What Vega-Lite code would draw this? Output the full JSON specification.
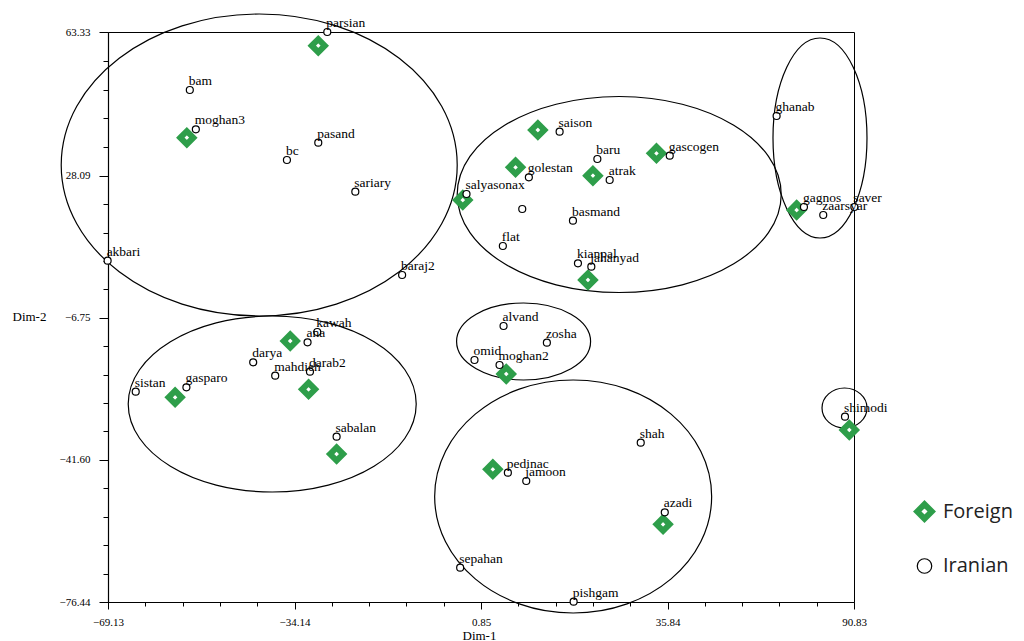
{
  "$schema": "https://vega.github.io/schema/vega-lite/v6.json",
  "autosize": {"type": "none"},
  "padding": {"left": 108, "top": 32, "right": 170, "bottom": 39},
  "width": 746,
  "height": 570,
  "background": "white",
  "config": {
    "view": {"stroke": "black", "strokeWidth": 1},
    "axis": {"grid": false, "domainColor": "black", "tickColor": "black", "labelColor": "black", "titleColor": "black", "domainWidth": 1.2, "tickWidth": 1}
  },
  "datasets": {
    "pts": [
      {"name": "parsian", "type": "Iranian", "x": -27.99, "y": 63.33},
      {"name": "bam", "type": "Iranian", "x": -53.78, "y": 49.11},
      {"name": "moghan3", "type": "Iranian", "x": -52.65, "y": 39.47},
      {"name": "pasand", "type": "Iranian", "x": -29.68, "y": 36.19},
      {"name": "bc", "type": "Iranian", "x": -35.56, "y": 31.94},
      {"name": "sariary", "type": "Iranian", "x": -22.73, "y": 24.17},
      {"name": "akbari", "type": "Iranian", "x": -69.2, "y": 7.25},
      {"name": "baraj2", "type": "Iranian", "x": -13.95, "y": 3.74},
      {"name": "saison", "type": "Iranian", "x": 15.6, "y": 38.88},
      {"name": "baru", "type": "Iranian", "x": 22.68, "y": 32.19},
      {"name": "gascogen", "type": "Iranian", "x": 36.26, "y": 33.0},
      {"name": "golestan", "type": "Iranian", "x": 9.83, "y": 27.7},
      {"name": "atrak", "type": "Iranian", "x": 24.99, "y": 27.04},
      {"name": "salyasonax", "type": "Iranian", "x": -1.87, "y": 23.61},
      {"name": "", "type": "Iranian", "x": 8.59, "y": 19.93},
      {"name": "basmand", "type": "Iranian", "x": 18.1, "y": 17.06},
      {"name": "flat", "type": "Iranian", "x": 4.95, "y": 10.86},
      {"name": "kianpal", "type": "Iranian", "x": 19.04, "y": 6.61},
      {"name": "jahanyad", "type": "Iranian", "x": 21.55, "y": 5.78},
      {"name": "ghanab", "type": "Iranian", "x": 56.31, "y": 42.73},
      {"name": "gagnos", "type": "Iranian", "x": 61.44, "y": 20.42},
      {"name": "saver", "type": "Iranian", "x": 70.9, "y": 20.42},
      {"name": "zaarsyar", "type": "Iranian", "x": 65.06, "y": 18.46},
      {"name": "kawah", "type": "Iranian", "x": -29.87, "y": -10.23},
      {"name": "ana", "type": "Iranian", "x": -31.69, "y": -12.76},
      {"name": "darya", "type": "Iranian", "x": -41.89, "y": -17.66},
      {"name": "mahdieh", "type": "Iranian", "x": -37.76, "y": -20.95},
      {"name": "darab2", "type": "Iranian", "x": -31.24, "y": -19.97},
      {"name": "sistan", "type": "Iranian", "x": -63.93, "y": -24.87},
      {"name": "gasparo", "type": "Iranian", "x": -54.42, "y": -23.79},
      {"name": "sabalan", "type": "Iranian", "x": -26.24, "y": -35.91},
      {"name": "alvand", "type": "Iranian", "x": 5.08, "y": -8.76},
      {"name": "zosha", "type": "Iranian", "x": 13.21, "y": -12.86},
      {"name": "omid", "type": "Iranian", "x": -0.37, "y": -17.1},
      {"name": "moghan2", "type": "Iranian", "x": 4.33, "y": -18.33},
      {"name": "shah", "type": "Iranian", "x": 30.82, "y": -37.38},
      {"name": "pedinac", "type": "Iranian", "x": 5.89, "y": -44.73},
      {"name": "jamoon", "type": "Iranian", "x": 9.34, "y": -46.77},
      {"name": "azadi", "type": "Iranian", "x": 35.33, "y": -54.44},
      {"name": "sepahan", "type": "Iranian", "x": -3.06, "y": -68.03},
      {"name": "pishgam", "type": "Iranian", "x": 18.23, "y": -76.36},
      {"name": "shimodi", "type": "Iranian", "x": 69.14, "y": -31.0},
      {"name": "", "type": "Foreign", "x": -29.68, "y": 59.97},
      {"name": "", "type": "Foreign", "x": -54.34, "y": 37.41},
      {"name": "", "type": "Foreign", "x": 11.52, "y": 39.3},
      {"name": "", "type": "Foreign", "x": 33.77, "y": 33.59},
      {"name": "", "type": "Foreign", "x": 7.33, "y": 30.15},
      {"name": "", "type": "Foreign", "x": 21.85, "y": 28.09},
      {"name": "", "type": "Foreign", "x": -2.57, "y": 22.13},
      {"name": "", "type": "Foreign", "x": 20.92, "y": 2.52},
      {"name": "", "type": "Foreign", "x": 60.07, "y": 19.68},
      {"name": "", "type": "Foreign", "x": -34.94, "y": -12.44},
      {"name": "", "type": "Foreign", "x": -31.5, "y": -24.28},
      {"name": "", "type": "Foreign", "x": -56.54, "y": -26.25},
      {"name": "", "type": "Foreign", "x": -26.24, "y": -40.15},
      {"name": "", "type": "Foreign", "x": 5.59, "y": -20.53},
      {"name": "", "type": "Foreign", "x": 3.07, "y": -43.9},
      {"name": "", "type": "Foreign", "x": 35.01, "y": -57.39},
      {"name": "", "type": "Foreign", "x": 69.95, "y": -34.26}
    ],
    "clusters": [
      {"cluster": "c1", "x": -40.76, "y": 30.72},
      {"cluster": "c2", "x": 26.78, "y": 23.48},
      {"cluster": "c3", "x": 64.45, "y": 37.34},
      {"cluster": "c4", "x": -38.32, "y": -27.89},
      {"cluster": "c5", "x": 8.84, "y": -12.56},
      {"cluster": "c6", "x": 18.14, "y": -50.57},
      {"cluster": "c7", "x": 69.05, "y": -28.87}
    ]
  },
  "encoding": {
    "x": {
      "field": "x", "type": "quantitative",
      "scale": {"domain": [-69.13, 70.83], "nice": false, "zero": false},
      "axis": {
        "title": "Dim-1",
        "values": [-69.13,-62.13,-55.13,-48.13,-41.13,-34.14,-27.14,-20.14,-13.14,-6.14,0.85,7.85,14.85,21.85,28.84,35.84,42.84,49.84,56.84,63.83,70.83],
        "labelExpr": "datum.value == 70.83 ? '90.83' : (indexof([-69.13,-34.14,0.85,35.84], datum.value) >= 0 ? format(datum.value, '.2f') : '')",
        "tickSize": {"condition": {"test": "indexof([-69.13,-34.14,0.85,35.84,70.83], datum.value) >= 0", "value": 7}, "value": 4},
        "labelPadding": 7,
        "labelFont": "Liberation Serif", "labelFontSize": 11,
        "labelOverlap": false, "labelFlush": false, "labelBound": false,
        "titleFont": "Liberation Serif", "titleFontSize": 13, "titleFontWeight": "normal",
        "titleX": 354, "titleY": 27, "titleAlign": "left", "titleBaseline": "top"
      }
    },
    "y": {
      "field": "y", "type": "quantitative",
      "scale": {"domain": [-76.44, 63.33], "nice": false, "zero": false},
      "axis": {
        "title": "Dim-2",
        "values": [-76.44,-69.47,-62.51,-55.54,-48.57,-41.6,-34.63,-27.66,-20.69,-13.72,-6.75,0.22,7.19,14.15,21.12,28.09,35.14,42.18,49.23,56.28,63.33],
        "labelExpr": "indexof([-76.44,-41.6,-6.75,28.09,63.33], datum.value) >= 0 ? format(datum.value, '.2f') : ''",
        "tickSize": {"condition": {"test": "indexof([-76.44,-41.6,-6.75,28.09,63.33], datum.value) >= 0", "value": 9}, "value": 5},
        "labelPadding": 9,
        "labelFont": "Liberation Serif", "labelFontSize": 11,
        "labelOverlap": false, "labelFlush": false, "labelBound": false,
        "titleFont": "Liberation Serif", "titleFontSize": 13, "titleFontWeight": "normal",
        "titleAngle": 0, "titleX": -96, "titleY": 284, "titleAlign": "left", "titleBaseline": "middle"
      }
    }
  },
  "layer": [
    {"data": {"name": "clusters"}, "transform": [{"filter": "datum.cluster == 'c1'"}],
     "mark": {"type": "point", "shape": "M-198,0C-198,-83.4,-109.4,-151,0,-151C109.4,-151,198,-83.4,198,0C198,83.4,109.4,151,0,151C-109.4,151,-198,83.4,-198,0Z", "size": 4, "filled": false, "stroke": "black", "strokeWidth": 1.2, "opacity": 1}},
    {"data": {"name": "clusters"}, "transform": [{"filter": "datum.cluster == 'c2'"}],
     "mark": {"type": "point", "shape": "M-162,0C-162,-54.1,-89.5,-98,0,-98C89.5,-98,162,-54.1,162,0C162,54.1,89.5,98,0,98C-89.5,98,-162,54.1,-162,0Z", "size": 4, "filled": false, "stroke": "black", "strokeWidth": 1.2, "opacity": 1}},
    {"data": {"name": "clusters"}, "transform": [{"filter": "datum.cluster == 'c3'"}],
     "mark": {"type": "point", "shape": "M-47,0C-47,-55.2,-26,-100,0,-100C26,-100,47,-55.2,47,0C47,55.2,26,100,0,100C-26,100,-47,55.2,-47,0Z", "size": 4, "filled": false, "stroke": "black", "strokeWidth": 1.2, "opacity": 1}},
    {"data": {"name": "clusters"}, "transform": [{"filter": "datum.cluster == 'c4'"}],
     "mark": {"type": "point", "shape": "M-144,0C-144,-48.6,-79.5,-88,0,-88C79.5,-88,144,-48.6,144,0C144,48.6,79.5,88,0,88C-79.5,88,-144,48.6,-144,0Z", "size": 4, "filled": false, "stroke": "black", "strokeWidth": 1.2, "opacity": 1}},
    {"data": {"name": "clusters"}, "transform": [{"filter": "datum.cluster == 'c5'"}],
     "mark": {"type": "point", "shape": "M-67,0C-67,-21.3,-37,-38.5,0,-38.5C37,-38.5,67,-21.3,67,0C67,21.3,37,38.5,0,38.5C-37,38.5,-67,21.3,-67,0Z", "size": 4, "filled": false, "stroke": "black", "strokeWidth": 1.2, "opacity": 1}},
    {"data": {"name": "clusters"}, "transform": [{"filter": "datum.cluster == 'c6'"}],
     "mark": {"type": "point", "shape": "M-138.5,0C-138.5,-64.3,-76.5,-116.5,0,-116.5C76.5,-116.5,138.5,-64.3,138.5,0C138.5,64.3,76.5,116.5,0,116.5C-76.5,116.5,-138.5,64.3,-138.5,0Z", "size": 4, "filled": false, "stroke": "black", "strokeWidth": 1.2, "opacity": 1}},
    {"data": {"name": "clusters"}, "transform": [{"filter": "datum.cluster == 'c7'"}],
     "mark": {"type": "point", "shape": "M-22.5,0C-22.5,-11,-12.4,-20,0,-20C12.4,-20,22.5,-11,22.5,0C22.5,11,12.4,20,0,20C-12.4,20,-22.5,11,-22.5,0Z", "size": 4, "filled": false, "stroke": "black", "strokeWidth": 1.2, "opacity": 1}},
    {"mark": {"type": "rule", "color": "black", "strokeWidth": 1.3},
     "encoding": {"y": {"datum": -6.75}}},
    {"mark": {"type": "rule", "color": "black", "strokeWidth": 1.3},
     "encoding": {"x": {"datum": -7.32}, "y": {"datum": 63.33}, "y2": {"datum": -82.8}}},
    {"data": {"name": "pts"},
     "layer": [
       {"transform": [{"filter": "datum.type == 'Foreign'"}],
        "mark": {"type": "point", "filled": true, "fill": "white", "opacity": 1, "size": 170, "strokeJoin": "miter"},
        "encoding": {
          "shape": {"field": "type", "type": "nominal", "scale": {"domain": ["Foreign", "Iranian"], "range": ["diamond", "circle"]},
            "legend": {"title": null, "orient": "none", "legendX": 806, "legendY": 469, "symbolSize": 210, "labelFont": "Open Sans", "labelFontSize": 20, "labelColor": "#222", "labelOffset": 8, "rowPadding": 25, "padding": 0, "symbolFillColor": "white"}},
          "stroke": {"field": "type", "type": "nominal", "scale": {"domain": ["Foreign", "Iranian"], "range": ["#2e9e4a", "black"]}},
          "strokeWidth": {"field": "type", "type": "nominal", "scale": {"domain": ["Foreign", "Iranian"], "range": [6, 1.2]}}
        }},
       {"transform": [{"filter": "datum.type == 'Iranian'"}],
        "mark": {"type": "point", "filled": true, "fill": "white", "opacity": 1, "size": 49},
        "encoding": {
          "shape": {"field": "type", "type": "nominal"},
          "stroke": {"field": "type", "type": "nominal"},
          "strokeWidth": {"field": "type", "type": "nominal"}
        }},
       {"transform": [{"filter": "datum.type == 'Iranian'"}],
        "mark": {"type": "text", "align": "left", "baseline": "alphabetic", "dx": -1, "dy": -5, "font": "Liberation Serif", "fontSize": 13.5, "color": "black"},
        "encoding": {"text": {"field": "name", "type": "nominal"}}}
     ]}
  ]
}
